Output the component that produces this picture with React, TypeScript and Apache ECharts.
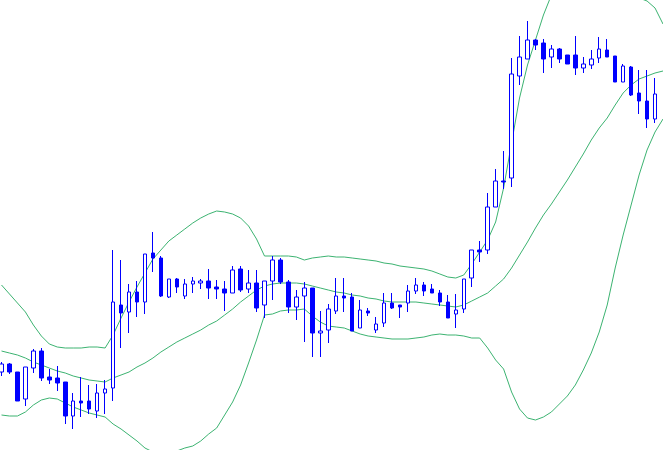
import React, { useEffect, useRef } from 'react';
import * as echarts from 'echarts';

// Candle prices (chart units), one entry per bar
const open = [
  78, 86, 78, 51, 82, 99, 73, 72, 68, 34,
  49, 49, 39, 57, 62, 145, 138, 158, 148, 197,
  192, 153, 171, 154, 166, 167, 169, 163, 161, 157,
  181, 161, 167, 145, 169, 190, 168, 143, 154, 162,
  117, 120, 139, 154, 153, 122, 139, 120, 127, 147,
  145, 147, 159, 165, 161, 157, 148, 136, 141, 172,
  200, 200, 243, 269, 272, 374, 391, 410, 407, 393,
  401, 395, 395, 382, 385, 392, 400, 394, 368, 383,
  357, 349, 331,
];
const close = [
  86, 78, 49, 83, 99, 72, 70, 67, 34, 49,
  47, 41, 57, 61, 148, 137, 158, 148, 196, 192,
  154, 171, 163, 166, 169, 169, 162, 161, 157, 180,
  160, 167, 142, 169, 190, 168, 143, 153, 162, 117,
  119, 141, 154, 152, 119, 140, 137, 126, 147, 142,
  143, 159, 165, 159, 157, 148, 132, 140, 171, 200,
  198, 243, 269, 268, 376, 393, 410, 405, 391, 401,
  391, 386, 382, 386, 391, 401, 393, 368, 384, 355,
  349, 331, 356,
];
const low = [
  74, 76, 49, 44, 77, 69, 66, 59, 26, 21,
  33, 36, 32, 36, 49, 102, 117, 133, 136, 178,
  153, 152, 157, 151, 157, 161, 151, 151, 139, 157,
  158, 157, 138, 132, 150, 166, 137, 130, 108, 93,
  93, 107, 136, 138, 119, 122, 134, 117, 123, 141,
  132, 138, 156, 154, 157, 144, 132, 122, 137, 163,
  188, 196, 243, 261, 263, 365, 391, 400, 377, 382,
  387, 386, 375, 377, 381, 387, 393, 368, 368, 354,
  336, 322, 327,
];
const high = [
  88, 87, 78, 83, 101, 102, 81, 84, 68, 57,
  73, 65, 66, 70, 200, 190, 166, 169, 196, 218,
  194, 171, 172, 171, 173, 171, 181, 170, 169, 184,
  184, 180, 180, 169, 194, 192, 170, 160, 168, 162,
  139, 146, 172, 172, 157, 150, 142, 133, 157, 157,
  145, 165, 172, 168, 166, 160, 155, 156, 171, 200,
  209, 257, 281, 299, 392, 414, 429, 411, 411, 405,
  402, 395, 414, 393, 400, 413, 411, 394, 386, 384,
  380, 380, 372,
];

// Bollinger bands, read per bar (the last value is the band just past the last bar, at the right edge)
const upperBand = [
  165, 156, 147, 138, 125, 114, 106, 103, 102, 102,
  102, 103, 103, 102, 115, 132, 148, 163, 177, 191,
  200, 209, 215, 221, 227, 232, 236, 239, 238, 236,
  232, 224, 211, 194, 194, 194, 194, 193, 190, 192,
  193, 194, 193, 193, 192, 191, 190, 189, 187, 186,
  184, 183, 182, 181, 179, 176, 173, 172, 175, 186,
  198, 210, 228, 262, 307, 352, 385, 410, 435, 455,
  470, 482, 490, 493, 492, 488, 480, 472, 464, 457,
  452, 449, 442, 426,
];
const middleBand = [
  99, 97, 95, 92, 88, 85, 82, 79, 77, 74,
  72, 70, 69, 68, 72, 75, 78, 83, 87, 92,
  98, 103, 108, 112, 116, 120, 125, 129, 135, 141,
  148, 154, 160, 164, 166, 167, 167, 167, 166, 164,
  162, 160, 158, 157, 155, 154, 152, 151, 149, 148,
  148, 148, 148, 147, 146, 145, 144, 143, 145, 149,
  153, 157, 164, 171, 182, 195, 208, 222, 235, 246,
  258, 270, 283, 296, 310, 322, 332, 345, 357, 365,
  371, 374, 377, 379,
];
const lowerBand = [
  35, 34, 34, 38, 45, 50, 52, 51, 47, 43,
  40, 37, 35, 33, 26, 21, 15, 9, 2, -2,
  -5, -5, -1, 2, 4, 9, 16, 22, 35, 48,
  65, 87, 110, 135, 136, 139, 140, 140, 141, 134,
  128, 124, 123, 122, 119, 116, 114, 113, 112, 111,
  111, 111, 112, 113, 115, 116, 115, 115, 114, 112,
  112, 102, 90, 81, 58, 41, 32, 30, 33, 38,
  46, 54, 65, 80, 97, 118, 145, 182, 215, 245,
  275, 300, 318, 331,
];

const categories = upperBand.map((_, i) => `Bar ${i + 1}`);

const BLUE = '#0000ff';
const GREEN = '#3cb371';

export default function App() {
  const ref = useRef<HTMLDivElement>(null);

  useEffect(() => {
    if (!ref.current) return;
    const chart = echarts.init(ref.current, null, { renderer: 'svg' });
    const candleData = open.map((o, i) => [o, close[i], low[i], high[i]]);
    const bandLine = (name: string, data: number[]) => ({
      name,
      type: 'line',
      data,
      symbol: 'none',
      smooth: false,
      clip: true,
      lineStyle: { color: GREEN, width: 1 },
      itemStyle: { color: GREEN },
      z: 1,
    });
    chart.setOption({
      animation: false,
      backgroundColor: '#ffffff',
      grid: { left: 1.5, right: -2.5, top: 0, bottom: 0, containLabel: false },
      xAxis: {
        type: 'category',
        data: categories,
        boundaryGap: false,
        show: false,
      },
      yAxis: {
        type: 'value',
        min: 0,
        max: 450,
        show: false,
        splitLine: { show: false },
      },
      series: [
        bandLine('Upper', upperBand),
        bandLine('Middle', middleBand),
        bandLine('Lower', lowerBand),
        {
          name: 'Price',
          type: 'candlestick',
          data: candleData,
          barWidth: 4,
          clip: false,
          z: 2,
          itemStyle: {
            color: '#ffffff',
            color0: BLUE,
            borderColor: BLUE,
            borderColor0: BLUE,
            borderWidth: 1,
          },
        },
      ],
    });
    return () => chart.dispose();
  }, []);

  return (
    <div
      ref={ref}
      style={{ position: 'fixed', left: 0, top: 0, width: 663, height: 450, background: '#fff' }}
    />
  );
}
